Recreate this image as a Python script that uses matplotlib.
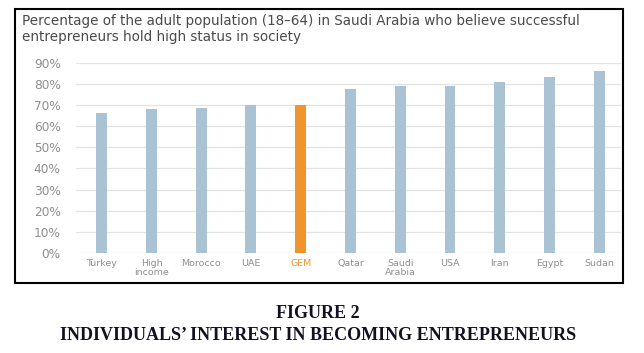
import matplotlib
matplotlib.use("Agg")
import matplotlib.pyplot as plt
from matplotlib.patches import Rectangle

# data
countries = ["Turkey", "High\nincome", "Morocco", "UAE", "GEM", "Qatar",
             "Saudi\nArabia", "USA", "Iran", "Egypt", "Sudan"]
values = [66, 68, 68.4, 70, 70, 77.4, 78.8, 79.1, 81, 83.4, 86]
yticks = [0, 10, 20, 30, 40, 50, 60, 70, 80, 90]
ytick_labels = [f"{t}%" for t in yticks]
highlight = "GEM"

blue = "#a9c3d5"
orange = "#f0952c"
colors = [orange if c == highlight else blue for c in countries]

fig = plt.figure(figsize=(6.44, 3.53), dpi=100)
ax = fig.add_axes([76 / 644, 100 / 353, 545 / 644, 190.3 / 353])

x = list(range(len(countries)))
ax.bar(x, values, width=0.22, color=colors, zorder=3)

ax.set_xlim(-0.516, 10.436)
ax.set_ylim(0, 90)
ax.set_yticks(yticks)
ax.set_yticklabels(ytick_labels, fontsize=8.7, color="#8f8f8f", family="DejaVu Sans")
ax.set_xticks(x)
ax.set_xticklabels(countries, fontsize=6.8, color="#8f8f8f", family="DejaVu Sans",
                   linespacing=1.0)
for lbl in ax.get_xticklabels():
    if lbl.get_text() == highlight:
        lbl.set_color(orange)
ax.tick_params(axis="both", length=0)
ax.tick_params(axis="y", pad=11)
ax.tick_params(axis="x", pad=4)
ax.grid(axis="y", color="#e3e3e3", linewidth=0.9, zorder=0)
for s in ax.spines.values():
    s.set_visible(False)

# chart title inside the box
fig.text(22 / 644, 1 - 21 / 353, "Percentage of the adult population (18–64) in Saudi Arabia who believe successful",
         fontsize=9.75, color="#4a4a4a", family="DejaVu Sans", va="center")
fig.text(22 / 644, 1 - 37 / 353, "entrepreneurs hold high status in society",
         fontsize=9.75, color="#4a4a4a", family="DejaVu Sans", va="center")

# black frame around the chart
fig.patches.append(Rectangle((15 / 644, (353 - 282.5) / 353), 607.5 / 644, 273.5 / 353,
                             transform=fig.transFigure, fill=False,
                             edgecolor="black", linewidth=1.5))

# figure caption
fig.text(0.494, 1 - 313 / 353, "FIGURE 2", fontsize=13, fontweight="bold",
         family="Liberation Serif", color="#111122", ha="center", va="center")
fig.text(0.494, 1 - 335 / 353, "INDIVIDUALS’ INTEREST IN BECOMING ENTREPRENEURS",
         fontsize=13, fontweight="bold", family="Liberation Serif", color="#111122",
         ha="center", va="center")

fig.savefig("out.png", dpi=100)
